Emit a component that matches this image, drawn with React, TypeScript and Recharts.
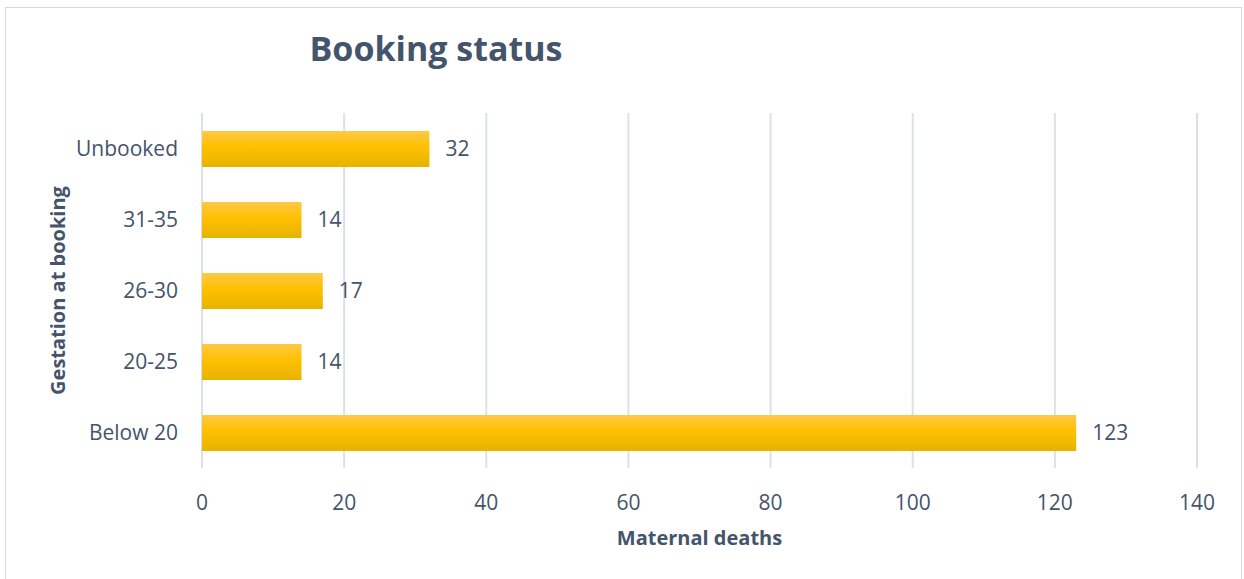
import { Bar, BarChart, CartesianGrid, LabelList, XAxis, YAxis } from "recharts"

// ── Data ──────────────────────────────────────────────────────────
const categories = ["Unbooked", "31-35", "26-30", "20-25", "Below 20"]
const deaths = [32, 14, 17, 14, 123]
const xTicks = [0, 20, 40, 60, 80, 100, 120, 140]

const data = categories.map((name, i) => ({ name, deaths: deaths[i] }))

const TEXT = "#44546A"
const FONT = "'Open Sans', sans-serif"

export default function App() {
    return (
        <div style={{ position: "absolute", left: 0, top: 0, width: 1244, height: 579, overflow: "hidden", background: "#fff", fontFamily: FONT }}>
            {/* outer frame */}
            <div style={{ position: "absolute", left: 5, top: 7, width: 1235, height: 600, border: "1.5px solid #D9D9D9" }} />
            <div style={{ position: "absolute", left: 436, top: 48, transform: "translate(-50%, -50%)", fontSize: 34, fontWeight: 700, color: TEXT, whiteSpace: "nowrap" }}>
                Booking status
            </div>
            <div style={{ position: "absolute", left: 0, top: 0 }}>
                <BarChart
                    width={1244}
                    height={579}
                    data={data}
                    layout="vertical"
                    margin={{ top: 113, right: 47, bottom: 51, left: 0 }}
                >
                    <defs>
                        <linearGradient id="gold" x1="0" y1="0" x2="0" y2="1">
                            <stop offset="0%" stopColor="#FFC847" />
                            <stop offset="45%" stopColor="#FFC000" />
                            <stop offset="100%" stopColor="#E6B300" />
                        </linearGradient>
                    </defs>
                    <CartesianGrid horizontal={false} stroke="#DCE1E8" strokeWidth={2} />
                    <XAxis
                        type="number"
                        domain={[0, 140]}
                        ticks={xTicks}
                        height={60}
                        axisLine={false}
                        tickLine={false}
                        tickSize={0}
                        tickMargin={27}
                        tick={{ fontSize: 21, fill: TEXT, fontFamily: FONT }}
                        label={{ value: "Maternal deaths", position: "bottom", offset: 3, style: { fontSize: 20, fontWeight: 700, fill: TEXT, fontFamily: FONT } }}
                    />
                    <YAxis
                        type="category"
                        dataKey="name"
                        width={202}
                        axisLine={false}
                        tickLine={false}
                        tickSize={0}
                        tickMargin={24}
                        tick={{ fontSize: 21, fill: TEXT, fontFamily: FONT }}
                        label={{ value: "Gestation at booking", angle: -90, position: "insideLeft", offset: 58, style: { textAnchor: "middle", fontSize: 20, fontWeight: 700, fill: TEXT, fontFamily: FONT } }}
                    />
                    <Bar dataKey="deaths" fill="url(#gold)" barSize={36} isAnimationActive={false}>
                        <LabelList dataKey="deaths" position="right" offset={16} style={{ fontSize: 21, fill: TEXT, fontFamily: FONT }} />
                    </Bar>
                </BarChart>
            </div>
        </div>
    )
}
